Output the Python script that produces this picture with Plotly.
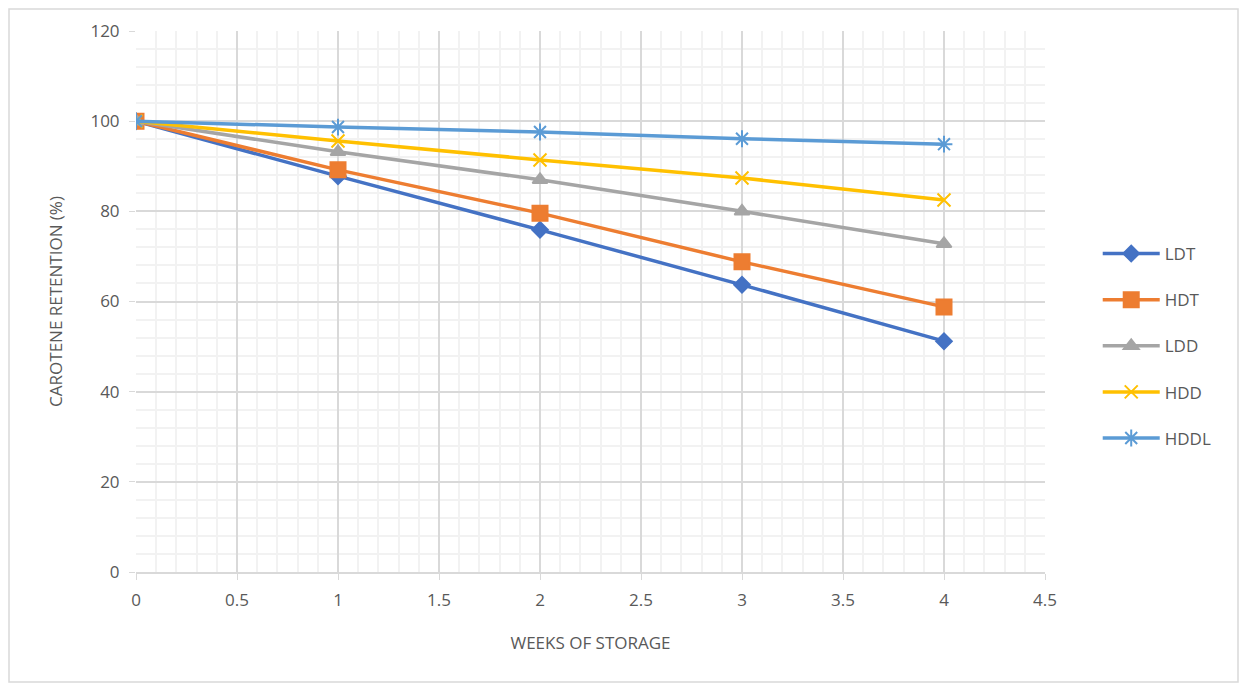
import plotly.graph_objects as go

weeks = [0, 1, 2, 3, 4]
series_names = ["LDT", "HDT", "LDD", "HDD", "HDDL"]
ldt = [100, 87.8, 75.9, 63.7, 51.2]
hdt = [100, 89.2, 79.6, 68.8, 58.8]
ldd = [100, 93.2, 87.0, 80.0, 72.8]
hdd = [100, 95.6, 91.4, 87.4, 82.5]
hddl = [100, 98.7, 97.6, 96.1, 94.9]

colors = ["#4472C4", "#ED7D31", "#A5A5A5", "#FFC000", "#5B9BD5"]
symbols = ["diamond", "square", "triangle-up", "x-thin", "asterisk"]
sizes = [12, 15, 13, 13, 14]
values = [ldt, hdt, ldd, hdd, hddl]

fig = go.Figure()
for name, vals, c, s, sz in zip(series_names, values, colors, symbols, sizes):
    fig.add_trace(go.Scatter(
        x=weeks, y=vals, name=name, mode="lines+markers", legendgroup=name,
        line=dict(color=c, width=3.5),
        marker=dict(symbol=s, size=sz, color=c, line=dict(color=c, width=2)),
    ))

W, H = 1231, 675
L, R, T, B = 128, 194, 23, 111
pw, ph = W - L - R, H - T - B
grid_c = "#D9D9D9"
minor_c = "#F2F2F2"
fig.update_layout(
    width=W, height=H,
    margin=dict(l=L, r=R, t=T, b=B),
    plot_bgcolor="white", paper_bgcolor="white",
    font=dict(family="Open Sans, Liberation Sans, sans-serif", color="#595959", size=16),
    legend=dict(x=1.058, y=0.621, xanchor="left", yanchor="top",
                font=dict(size=17, color="#595959"), tracegroupgap=21,
                itemwidth=57, bgcolor="rgba(0,0,0,0)"),
    xaxis=dict(range=[0, 4.5], dtick=0.5, tick0=0, showgrid=True, gridcolor=grid_c, gridwidth=1.5,
               minor=dict(dtick=0.1, showgrid=True, gridcolor=minor_c, gridwidth=1.5),
               zeroline=False, showline=True, linecolor=grid_c, linewidth=1.5,
               ticks="outside", ticklen=6, tickcolor=grid_c, ticklabelstandoff=6,
               tickfont=dict(size=17, color="#595959"),
               title=dict(text="WEEKS OF STORAGE", font=dict(size=17, color="#595959"), standoff=27)),
    yaxis=dict(range=[0, 120], dtick=20, showgrid=True, gridcolor=grid_c, gridwidth=1.5,
               minor=dict(dtick=4, showgrid=True, gridcolor=minor_c, gridwidth=1.5),
               zeroline=False, showline=False,
               ticks="outside", ticklen=6, tickcolor=grid_c, ticklabelstandoff=6,
               tickfont=dict(size=17, color="#595959"),
               title=dict(text="CAROTENE RETENTION (%)", font=dict(size=17, color="#595959"), standoff=23)),
    showlegend=True,
)
fig.add_shape(type="rect", xref="paper", yref="paper",
              x0=-(L - 1) / pw, x1=1 + (R - 1) / pw, y0=-(B - 1) / ph, y1=1 + (T - 1) / ph,
              line=dict(color="#D9D9D9", width=1.5), fillcolor="rgba(0,0,0,0)", layer="below")
fig.write_html("out.html")
